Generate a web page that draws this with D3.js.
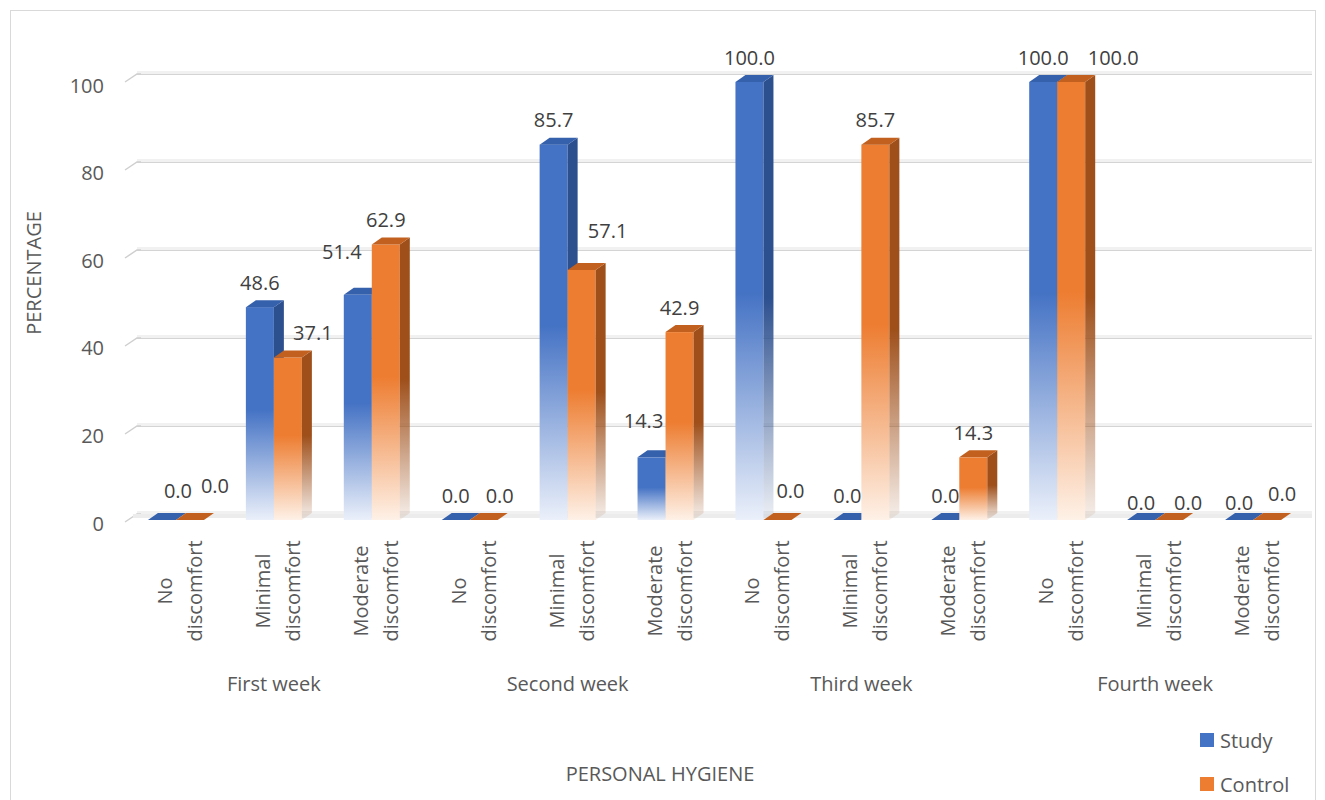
<!DOCTYPE html>
<html>
<head>
<meta charset="utf-8">
<script src="https://cdn.jsdelivr.net/npm/d3@7"></script>
<style>
  html, body { margin: 0; padding: 0; background: #fff; }
  svg { display: block; font-family: "Open Sans", Lato, sans-serif; }
</style>
</head>
<body>
<svg id="chart" width="1325" height="800"></svg>
<script>
// Personal hygiene discomfort levels per week, study vs control group (%)
const weeks = ["First week", "Second week", "Third week", "Fourth week"];
const levels = [["No", "discomfort"], ["Minimal", "discomfort"], ["Moderate", "discomfort"]];
const seriesNames = ["Study", "Control"];
const studyValues   = [0, 48.6, 51.4, 0, 85.7, 14.3, 100, 0, 0, 100, 0, 0];
const controlValues = [0, 37.1, 62.9, 0, 57.1, 42.9, 0, 85.7, 14.3, 100, 0, 0];
const yTicks = [0, 20, 40, 60, 80, 100];

// small nudges that keep data labels clear of neighbouring bars
const studyLabelNudge   = [[16,-5],[0,0],[-16,-18],[0,0],[0,0],[-8,-12],[0,0],[0,0],[0,0],[0,0],[0,7],[0,7]];
const controlLabelNudge = [[25,-10],[25,0],[0,0],[16,0],[26,-14],[0,0],[13,-5],[0,0],[0,0],[42,0],[19,7],[15,-2]];

const svg = d3.select("#chart");
const defs = svg.append("defs");

const colors = {
  Study:   { front: "#4472C4", fade: "#EBF0FA", side: "#2C4F8E", top: "#3560AC" },
  Control: { front: "#ED7D31", fade: "#FEF1E7", side: "#9E4F1A", top: "#C2611F" }
};

// vertical fades: solid on the upper half, washing out toward the floor
seriesNames.forEach(s => {
  const c = colors[s];
  const gf = defs.append("linearGradient").attr("id", "front-" + s)
    .attr("x1", 0).attr("y1", 0).attr("x2", 0).attr("y2", 1);
  gf.append("stop").attr("offset", "0").attr("stop-color", c.front);
  gf.append("stop").attr("offset", "0.48").attr("stop-color", c.front);
  gf.append("stop").attr("offset", "1").attr("stop-color", c.fade);

  const gs = defs.append("linearGradient").attr("id", "side-" + s)
    .attr("x1", 0).attr("y1", 0).attr("x2", 0).attr("y2", 1);
  gs.append("stop").attr("offset", "0").attr("stop-color", c.side);
  gs.append("stop").attr("offset", "0.5").attr("stop-color", c.side);
  gs.append("stop").attr("offset", "1").attr("stop-color", c.side).attr("stop-opacity", 0.08);
});

// chart area frame
svg.append("rect")
  .attr("x", 10.5).attr("y", 10.5).attr("width", 1305).attr("height", 800)
  .attr("fill", "none").attr("stroke", "#d9d9d9").attr("stroke-width", 1);

const catKeys = [];
weeks.forEach(w => levels.forEach(l => catKeys.push(w + "|" + l.join(" "))));

const x = d3.scaleBand().domain(catKeys).range([127, 1302]).padding(0);
const yFront = d3.scaleLinear().domain([0, 100]).range([520, 82]);
const yBack  = d3.scaleLinear().domain([0, 100]).range([514, 74]);

const depthX = 10, depthY = 7, barW = 28;
const wallLeft = 137, wallRight = 1312;

// back-wall gridlines with short side-wall stubs
const grid = svg.append("g");
yTicks.forEach(t => {
  const yb = yBack(t);
  grid.append("rect")
    .attr("x", wallLeft).attr("y", yb - 3).attr("width", wallRight - wallLeft).attr("height", 3)
    .attr("fill", "#f1f1f1");
  grid.append("line")
    .attr("x1", wallLeft).attr("x2", wallRight).attr("y1", yb + 0.5).attr("y2", yb + 0.5)
    .attr("stroke", "#d4d4d4").attr("stroke-width", 1);
  grid.append("path")
    .attr("d", `M${wallLeft - 12},${yb + 8} L${wallLeft},${yb} L${wallLeft + 4},${yb}`)
    .attr("fill", "none").attr("stroke", "#cfcfcf").attr("stroke-width", 1.5);
});
// floor slab
svg.append("rect")
  .attr("x", wallLeft - 4).attr("y", yBack(0)).attr("width", wallRight - wallLeft + 4).attr("height", 4)
  .attr("fill", "#ececec");

// y tick labels
svg.append("g").selectAll("text").data(yTicks).join("text")
  .attr("x", 104).attr("y", d => yFront(d) + 3)
  .attr("text-anchor", "end").attr("dominant-baseline", "central")
  .attr("font-size", 20).attr("fill", "#595959")
  .text(d => d);

// bars
const bars = [];
catKeys.forEach((k, i) => {
  const c = x(k) + x.bandwidth() / 2;
  bars.push({ s: "Study", v: studyValues[i], x0: c - barW, nudge: studyLabelNudge[i] });
  bars.push({ s: "Control", v: controlValues[i], x0: c, nudge: controlLabelNudge[i] });
});

const barG = svg.append("g");
bars.forEach(b => {
  const x0 = b.x0, x1 = b.x0 + barW, yt = yFront(b.v), yb = yFront(0);
  const g = barG.append("g");
  if (b.v > 0) {
    g.append("rect")
      .attr("x", x0).attr("y", yt).attr("width", barW).attr("height", yb - yt)
      .attr("fill", `url(#front-${b.s})`);
    g.append("path")
      .attr("d", `M${x1},${yt} L${x1 + depthX},${yt - depthY} L${x1 + depthX},${yb - depthY} L${x1},${yb} Z`)
      .attr("fill", `url(#side-${b.s})`);
  }
  g.append("path")
    .attr("d", `M${x0},${yt} L${x1},${yt} L${x1 + depthX},${yt - depthY} L${x0 + depthX},${yt - depthY} Z`)
    .attr("fill", colors[b.s].top);
});

// value labels
svg.append("g").selectAll("text").data(bars).join("text")
  .attr("x", d => d.x0 + barW / 2 + d.nudge[0])
  .attr("y", d => yFront(d.v) - 25 + d.nudge[1])
  .attr("text-anchor", "middle").attr("dominant-baseline", "central")
  .attr("font-size", 20).attr("fill", "#404040")
  .text(d => d3.format(".1f")(d.v));

// category labels, rotated, two lines each
const catG = svg.append("g");
catKeys.forEach((k, i) => {
  const c = x(k) + x.bandwidth() / 2;
  const lines = levels[i % 3];
  const g = catG.append("g").attr("transform", `translate(${c},591) rotate(-90)`);
  g.selectAll("text").data(lines).join("text")
    .attr("x", 0).attr("y", (d, j) => -4 + j * 30)
    .attr("text-anchor", "middle")
    .attr("font-size", 20).attr("fill", "#595959")
    .text(d => d);
});

// week group labels
svg.append("g").selectAll("text").data(weeks).join("text")
  .attr("x", (w, i) => x(catKeys[i * 3 + 1]) + x.bandwidth() / 2)
  .attr("y", 683)
  .attr("text-anchor", "middle").attr("dominant-baseline", "central")
  .attr("font-size", 20).attr("fill", "#595959")
  .text(d => d);

// axis titles
svg.append("text")
  .attr("transform", "translate(33,273) rotate(-90)")
  .attr("text-anchor", "middle").attr("dominant-baseline", "central")
  .attr("font-size", 20).attr("fill", "#595959")
  .text("PERCENTAGE");
svg.append("text")
  .attr("x", 660).attr("y", 773)
  .attr("text-anchor", "middle").attr("dominant-baseline", "central")
  .attr("font-size", 20).attr("fill", "#595959")
  .text("PERSONAL HYGIENE");

// legend
const legend = svg.append("g").selectAll("g").data(seriesNames).join("g")
  .attr("transform", (d, i) => `translate(1200,${733 + i * 44})`);
legend.append("rect").attr("width", 14).attr("height", 14)
  .attr("fill", d => colors[d].front);
legend.append("text").attr("x", 20).attr("y", 7)
  .attr("dominant-baseline", "central")
  .attr("font-size", 20).attr("fill", "#595959")
  .text(d => d);
</script>
</body>
</html>
